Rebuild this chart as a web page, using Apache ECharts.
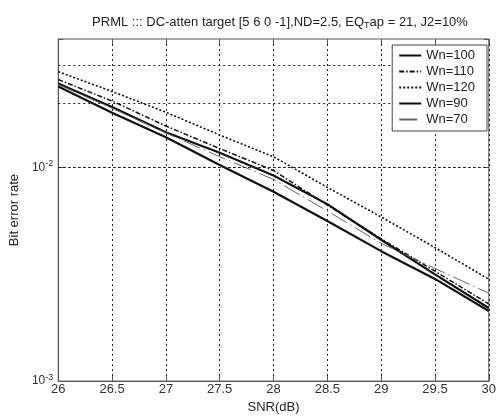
<!DOCTYPE html>
<html>
<head>
<meta charset="utf-8">
<script src="https://cdn.jsdelivr.net/npm/echarts@6/dist/echarts.min.js"></script>
<style>html,body{margin:0;padding:0;background:#fff}#c{width:499px;height:419px}</style>
</head>
<body>
<div id="c"></div>
<script>
var snr = [26, 26.5, 27, 27.5, 28, 28.5, 29, 29.5, 30];
var wn100 = [0.02475, 0.01922, 0.01463, 0.01173, 0.00918, 0.00674, 0.00459, 0.00316, 0.00220];
var wn110 = [0.02583, 0.02049, 0.01565, 0.01228, 0.00969, 0.00667, 0.00464, 0.00327, 0.00230];
var wn120 = [0.02812, 0.02272, 0.01816, 0.01421, 0.01124, 0.00808, 0.00587, 0.00422, 0.00300];
var wn90  = [0.02397, 0.01805, 0.01388, 0.01027, 0.00770, 0.00562, 0.00406, 0.00301, 0.00213];
var wn70  = [0.02448, 0.01896, 0.01452, 0.01124, 0.00880, 0.00626, 0.00442, 0.00337, 0.00258];
var yGridValues = [0.002, 0.003, 0.004, 0.005, 0.006, 0.007, 0.008, 0.009, 0.01, 0.02, 0.03];
var titleText = ['PRML ::: DC-atten target [5 6 0 -1],ND=2.5, EQ', 'T', 'ap = 21, J2=10%'];

var FONT = 'Liberation Sans';
function pairs(ys){ return snr.map(function(x,i){ return [x, ys[i]]; }); }
function expLabel(v){
  var e = Math.log10(v);
  var r = Math.round(e);
  if (Math.abs(e - r) < 1e-6) return '{b|10}{s|' + r + '}';
  return '';
}
var chart = echarts.init(document.getElementById('c'));
var gridLineStyle = {color:'#222', type:[2,3], width:1};
chart.setOption({
  animation:false,
  backgroundColor:'#fff',
  title:{
    text:'{a|' + titleText[0] + '}{t|' + titleText[1] + '}{a|' + titleText[2] + '}',
    left:275, textAlign:'center', top:9,
    textStyle:{fontWeight:'normal', rich:{
      a:{fontFamily:FONT, fontSize:13, color:'#222', fontWeight:'normal'},
      t:{fontFamily:FONT, fontSize:9, color:'#222', fontWeight:'normal', padding:[7,0,0,0]}
    }}
  },
  grid:{left:58, right:5, top:39, bottom:35, show:true, borderColor:'#555', borderWidth:1},
  legend:{
    orient:'vertical', right:12, top:45, z:20,
    backgroundColor:'#fff', borderColor:'#444', borderWidth:1,
    padding:[4,12,5,6], itemGap:3, itemWidth:22, itemHeight:13,
    itemStyle:{opacity:0},
    textStyle:{fontFamily:FONT, fontSize:13, color:'#222'},
    data:['Wn=100','Wn=110','Wn=120','Wn=90','Wn=70']
  },
  xAxis:[{
    type:'value', min:26, max:30, interval:0.5,
    name:'SNR(dB)', nameLocation:'middle', nameGap:17,
    nameTextStyle:{fontFamily:FONT, fontSize:13, color:'#222'},
    axisLine:{show:true, lineStyle:{color:'#555'}},
    axisTick:{show:true, inside:true, length:5, lineStyle:{color:'#555'}},
    axisLabel:{fontFamily:FONT, fontSize:13, color:'#333', margin:2},
    splitLine:{show:true, lineStyle:gridLineStyle}
  },{
    type:'value', min:26, max:30, interval:0.5, position:'top',
    axisLine:{show:false}, axisLabel:{show:false}, splitLine:{show:false},
    axisTick:{show:true, inside:true, length:5, lineStyle:{color:'#555'}}
  }],
  yAxis:[{
    type:'log', logBase:10, min:0.001, max:0.04,
    name:'Bit error rate', nameLocation:'middle', nameGap:37,
    nameTextStyle:{fontFamily:FONT, fontSize:13, color:'#222'},
    axisLine:{show:true, lineStyle:{color:'#555'}},
    axisTick:{show:true, inside:true, length:5, lineStyle:{color:'#555'}},
    axisLabel:{formatter:expLabel, margin:5, rich:{
      b:{fontFamily:FONT, fontSize:12, color:'#333'},
      s:{fontFamily:FONT, fontSize:9, color:'#333', padding:[0,0,8,0]}
    }},
    splitLine:{show:false}
  },{
    type:'log', logBase:10, min:0.001, max:0.04, position:'right',
    axisLine:{show:false}, axisLabel:{show:false}, splitLine:{show:false},
    axisTick:{show:true, inside:true, length:5, lineStyle:{color:'#555'}}
  }],
  series:[
    {name:'Wn=100', type:'line', symbol:'none', data:pairs(wn100),
     lineStyle:{color:'#111', width:2.2, type:'solid'}, itemStyle:{color:'#111'},
     markLine:{silent:true, symbol:'none', label:{show:false}, lineStyle:gridLineStyle,
       emphasis:{disabled:true}, data:yGridValues.map(function(v){return {yAxis:v};})}},
    {name:'Wn=110', type:'line', symbol:'none', data:pairs(wn110),
     lineStyle:{color:'#111', width:1.5, type:[5,2,1.5,2]}, itemStyle:{color:'#111'}},
    {name:'Wn=120', type:'line', symbol:'none', data:pairs(wn120),
     lineStyle:{color:'#111', width:1.6, type:[2,2]}, itemStyle:{color:'#111'}},
    {name:'Wn=90', type:'line', symbol:'none', data:pairs(wn90),
     lineStyle:{color:'#111', width:2.2, type:'solid'}, itemStyle:{color:'#111'}},
    {name:'Wn=70', type:'line', symbol:'none', data:pairs(wn70),
     lineStyle:{color:'#666', width:1, type:[18,4,1.5,4]}, itemStyle:{color:'#666'}}
  ]
});
</script>
</body>
</html>
